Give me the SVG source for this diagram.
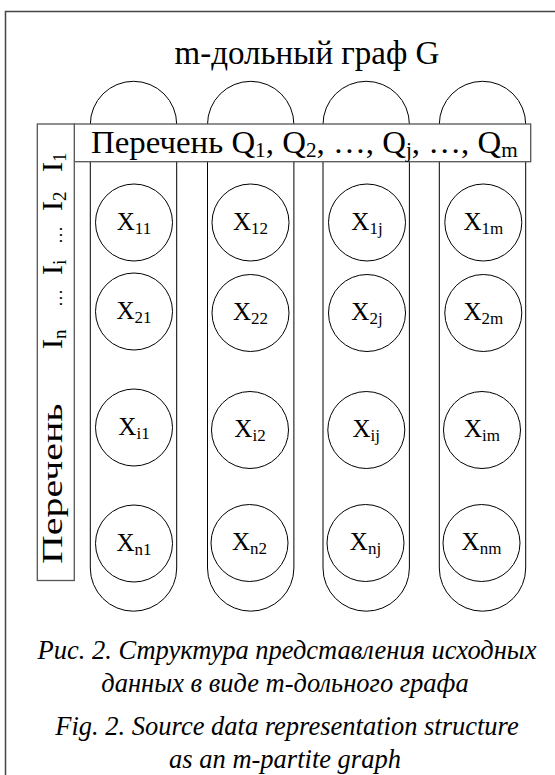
<svg xmlns="http://www.w3.org/2000/svg" width="555" height="775" viewBox="0 0 555 775">
<style>
.frame{fill:none;stroke:#444;stroke-width:1.5}
.box{fill:#fff;stroke:#555;stroke-width:1.3}
.pill{fill:none;stroke:#000;stroke-width:1}
.node circle{fill:#fff;stroke:#000;stroke-width:1}
text{font-family:"Liberation Serif","Times New Roman",serif;fill:#000}
.lbl{font-size:25px;text-anchor:middle}
.sub{font-size:17px}
.cap{font-size:26.5px;font-style:italic;text-anchor:middle}
</style>
<rect class="frame" x="5.5" y="11.5" width="580" height="800"/>
<text x="307" y="64" font-size="33" text-anchor="middle">m-дольный граф G</text>
<g id="pills">
<path class="pill" d="M90.3,568 V124.5 A43.2,43.2 0 0 1 176.7,124.5 V568 A43.2,43.2 0 0 1 90.3,568 Z"/>
<path class="pill" d="M207.5,568 V124.5 A43.2,43.2 0 0 1 293.9,124.5 V568 A43.2,43.2 0 0 1 207.5,568 Z"/>
<path class="pill" d="M323,568 V124.5 A43.2,43.2 0 0 1 409.4,124.5 V568 A43.2,43.2 0 0 1 323,568 Z"/>
<path class="pill" d="M439.3,568 V124.5 A43.2,43.2 0 0 1 525.7,124.5 V568 A43.2,43.2 0 0 1 439.3,568 Z"/>
</g>
<g id="header-q">
<rect class="box" x="74.3" y="124" width="456.4" height="37.7"/>
<text transform="translate(91,153) scale(1.06,1)" font-size="31">Перечень Q<tspan font-size="20" dy="4">1</tspan><tspan dy="-4">, Q</tspan><tspan font-size="20" dy="4">2</tspan><tspan dy="-4">, …, Q</tspan><tspan font-size="20" dy="4">j</tspan><tspan dy="-4">, …, Q</tspan><tspan font-size="20" dy="4">m</tspan></text>
</g>
<g id="header-i">
<rect class="box" x="37.3" y="124" width="37" height="456.5"/>
<g transform="translate(61.5,564) rotate(-90)">
<text font-size="30" transform="scale(1.33,1)">Перечень</text>
<text font-size="30" x="215" y="0">I<tspan font-size="19" dy="4">n</tspan></text>
<text font-size="18" x="257" y="0">…</text>
<text font-size="30" x="289" y="0">I<tspan font-size="19" dy="4">i</tspan></text>
<text font-size="18" x="320" y="0">…</text>
<text font-size="30" x="353" y="0">I<tspan font-size="19" dy="4">2</tspan></text>
<text font-size="30" x="392" y="0">I<tspan font-size="19" dy="4">1</tspan></text>
</g>
</g>
<g id="x11" class="node"><circle cx="134" cy="222.5" r="38.5"/><text class="lbl" x="134" y="229.5">X<tspan class="sub" dy="4">11</tspan></text></g>
<g id="x21" class="node"><circle cx="134" cy="311.5" r="38.5"/><text class="lbl" x="134" y="318.5">X<tspan class="sub" dy="4">21</tspan></text></g>
<g id="xi1" class="node"><circle cx="134" cy="427.5" r="38.5"/><text class="lbl" x="134" y="434.5">X<tspan class="sub" dy="4">i1</tspan></text></g>
<g id="xn1" class="node"><circle cx="134" cy="543.5" r="38.5"/><text class="lbl" x="134" y="550.5">X<tspan class="sub" dy="4">n1</tspan></text></g>
<g id="x12" class="node"><circle cx="250.5" cy="222.5" r="38.5"/><text class="lbl" x="250.5" y="229.5">X<tspan class="sub" dy="4">12</tspan></text></g>
<g id="x22" class="node"><circle cx="250.5" cy="313" r="38.5"/><text class="lbl" x="250.5" y="320">X<tspan class="sub" dy="4">22</tspan></text></g>
<g id="xi2" class="node"><circle cx="250" cy="430" r="38.5"/><text class="lbl" x="250" y="437">X<tspan class="sub" dy="4">i2</tspan></text></g>
<g id="xn2" class="node"><circle cx="249.5" cy="543" r="38.5"/><text class="lbl" x="249.5" y="550">X<tspan class="sub" dy="4">n2</tspan></text></g>
<g id="x1j" class="node"><circle cx="367" cy="222.5" r="38.5"/><text class="lbl" x="367" y="229.5">X<tspan class="sub" dy="4">1j</tspan></text></g>
<g id="x2j" class="node"><circle cx="367" cy="313" r="38.5"/><text class="lbl" x="367" y="320">X<tspan class="sub" dy="4">2j</tspan></text></g>
<g id="xij" class="node"><circle cx="366.3" cy="430" r="38.5"/><text class="lbl" x="366.3" y="437">X<tspan class="sub" dy="4">ij</tspan></text></g>
<g id="xnj" class="node"><circle cx="365.5" cy="543" r="38.5"/><text class="lbl" x="365.5" y="550">X<tspan class="sub" dy="4">nj</tspan></text></g>
<g id="x1m" class="node"><circle cx="483.3" cy="222.5" r="38.5"/><text class="lbl" x="483.3" y="229.5">X<tspan class="sub" dy="4">1m</tspan></text></g>
<g id="x2m" class="node"><circle cx="483.3" cy="313" r="38.5"/><text class="lbl" x="483.3" y="320">X<tspan class="sub" dy="4">2m</tspan></text></g>
<g id="xim" class="node"><circle cx="482" cy="430" r="38.5"/><text class="lbl" x="482" y="437">X<tspan class="sub" dy="4">im</tspan></text></g>
<g id="xnm" class="node"><circle cx="481.5" cy="543" r="38.5"/><text class="lbl" x="481.5" y="550">X<tspan class="sub" dy="4">nm</tspan></text></g>
<g id="connectors"/>
<g id="caption">
<text class="cap" x="287" y="659">Рис. 2. Структура представления исходных</text>
<text class="cap" x="285" y="692">данных в виде m-дольного графа</text>
<text class="cap" x="287" y="735">Fig. 2. Source data representation structure</text>
<text class="cap" x="285" y="768">as an m-partite graph</text>
</g>
</svg>
